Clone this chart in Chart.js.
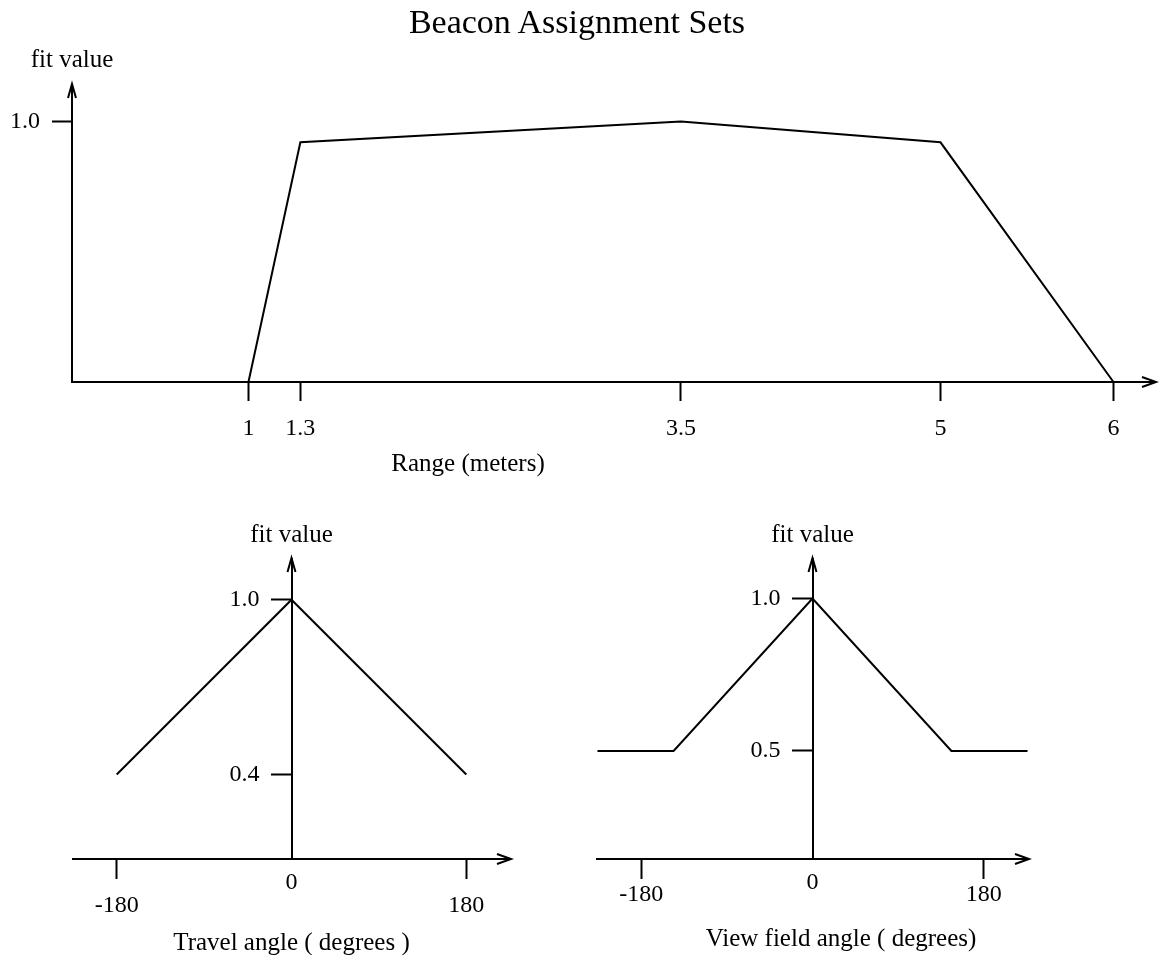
<!DOCTYPE html>
<html>
<head>
<meta charset="utf-8">
<title>Beacon Assignment Sets</title>
<script src="https://cdn.jsdelivr.net/npm/chart.js@4.4.1/dist/chart.umd.min.js"></script>
<style>
    body { margin: 0; background: #fff; }
    #figure { position: relative; width: 1164px; height: 955px; overflow: hidden; font-family: 'Liberation Serif', serif; color: #000; }
    #figure canvas { position: absolute; }
    .caption { position: absolute; text-align: center; white-space: nowrap; }
</style>
</head>
<body>
<div id="figure">
    <canvas id="rangeChart" width="1164" height="490" style="left:0; top:0;"></canvas>
    <div class="caption" style="left:0; top:0; width:1154px; line-height:44px; font-size:34px;">Beacon Assignment Sets</div>
    <div class="caption" style="left:22px; top:44px; width:100px; line-height:30px; font-size:25px;">fit value</div>
    <div class="caption" style="left:268px; top:448px; width:400px; line-height:30px; font-size:25px;">Range (meters)</div>
    <canvas id="travelChart" width="560" height="465" style="left:0; top:490px;"></canvas>
    <canvas id="viewChart" width="604" height="465" style="left:560px; top:490px;"></canvas>
    <div class="caption" style="left:641px; top:923px; width:400px; line-height:30px; font-size:25px;">View field angle ( degrees)</div>
</div>
<script>
// Range membership (top)
const rangeX = [1, 1.3, 3.5, 5, 6];
const rangeFit = [0, 0.92, 1.0, 0.92, 0];
const rangeTicks = [1, 1.3, 3.5, 5, 6];
const rangeFitTicks = [1.0];

// Travel angle membership (bottom left)
const travelX = [-180, 0, 180];
const travelFit = [0.4, 1.0, 0.4];
const travelFitTicks = [0.4, 1.0];

// View field angle membership (bottom right)
const viewX = [-226, -146, 0, 146, 226];
const viewFit = [0.5, 0.5, 1.0, 0.5, 0.5];
const viewFitTicks = [0.5, 1.0];

const angleTicks = [-180, 0, 180];

Chart.defaults.font.family = "'Liberation Serif', serif";
Chart.defaults.color = '#000';

// open arrow heads at the end of both axes
const axisArrows = {
    id: 'axisArrows',
    afterDraw(chart) {
        const { ctx, chartArea, scales } = chart;
        const yPos = chart.options.scales.y.position;
        const ax = yPos === 'left' ? chartArea.left : scales.x.getPixelForValue(0);
        const ay = chartArea.bottom;
        ctx.save();
        ctx.strokeStyle = '#000';
        ctx.lineWidth = 2;
        ctx.beginPath();
        ctx.moveTo(chartArea.right - 13, ay - 5);
        ctx.lineTo(chartArea.right + 1, ay);
        ctx.lineTo(chartArea.right - 13, ay + 5);
        ctx.moveTo(ax - 4, chartArea.top + 13);
        ctx.lineTo(ax, chartArea.top - 1);
        ctx.lineTo(ax + 4, chartArea.top + 13);
        ctx.stroke();
        ctx.restore();
    }
};

function points(xs, ys) {
    return xs.map((x, i) => ({ x: x, y: ys[i] }));
}

function lineDataset(xs, ys) {
    return {
        data: points(xs, ys),
        borderColor: '#000',
        borderWidth: 2,
        pointRadius: 0,
        tension: 0,
        clip: false
    };
}

const axisGrid = {
    drawOnChartArea: false,
    tickColor: '#000',
    tickWidth: 2
};

// top chart
new Chart(document.getElementById('rangeChart'), {
    type: 'line',
    data: { datasets: [lineDataset(rangeX, rangeFit)] },
    options: {
        responsive: false,
        animation: false,
        layout: { padding: { left: 0, right: 9, top: 85, bottom: 0 } },
        plugins: {
            legend: { display: false },
            tooltip: { enabled: false }
        },
        scales: {
            x: {
                type: 'linear',
                min: -0.02,
                max: 6.24,
                afterFit: s => { s.height = 108; },
                afterBuildTicks: s => { s.ticks = rangeTicks.map(v => ({ value: v })); },
                ticks: { padding: 13, font: { size: 24 }, callback: v => String(v) },
                grid: { ...axisGrid, tickLength: 19 },
                border: { color: '#000', width: 2 }
            },
            y: {
                type: 'linear',
                position: 'left',
                min: 0,
                max: 1.14,
                afterFit: s => { s.width = 72; },
                afterBuildTicks: s => { s.ticks = rangeFitTicks.map(v => ({ value: v })); },
                ticks: { padding: 12, font: { size: 24 }, callback: v => v.toFixed(1) },
                grid: { ...axisGrid, tickLength: 20 },
                border: { color: '#000', width: 2 }
            }
        }
    },
    plugins: [axisArrows]
});

// bottom charts share the same look; the y axis sits in the middle at 0
function angleChart(id, xs, ys, fitTicks, opts) {
    return new Chart(document.getElementById(id), {
        type: 'line',
        data: { datasets: [lineDataset(xs, ys)] },
        options: {
            responsive: false,
            animation: false,
            layout: { padding: { left: opts.padLeft, right: opts.padRight, top: 0, bottom: 0 } },
            plugins: {
                legend: { display: false },
                tooltip: { enabled: false },
                title: {
                    display: true,
                    text: 'fit value',
                    font: { size: 25, weight: 'normal' },
                    padding: { top: 30, bottom: 9 }
                }
            },
            scales: {
                x: {
                    type: 'linear',
                    min: -opts.xRange,
                    max: opts.xRange,
                    afterFit: s => { s.height = 96; },
                    afterBuildTicks: s => { s.ticks = angleTicks.map(v => ({ value: v })); },
                    ticks: {
                        padding: opts.labelPad,
                        font: { size: 24, lineHeight: opts.labelLine },
                        callback: v => v === 0 ? '0' : ['', String(v)]
                    },
                    grid: {
                        ...axisGrid,
                        tickLength: 20,
                        tickColor: c => (c.tick && c.tick.value === 0) ? 'rgba(0,0,0,0)' : '#000'
                    },
                    border: { color: '#000', width: 2 },
                    title: {
                        display: !!opts.title,
                        text: opts.title,
                        font: { size: 25, lineHeight: '24px' },
                        padding: { top: 0, bottom: 0 }
                    }
                },
                y: {
                    type: 'linear',
                    position: 'center',
                    min: opts.yMin,
                    max: opts.yMax,
                    afterBuildTicks: s => { s.ticks = fitTicks.map(v => ({ value: v })); },
                    ticks: { padding: 12, font: { size: 24 }, callback: v => v.toFixed(1) },
                    grid: { ...axisGrid, tickLength: 20 },
                    border: { color: '#000', width: 2 }
                }
            }
        },
        plugins: [axisArrows]
    });
}

angleChart('travelChart', travelX, travelFit, travelFitTicks, {
    padLeft: 73, padRight: 50,
    xRange: 225,
    yMin: 0.11, yMax: 1.14,
    labelPad: -7.5, labelLine: '23px',
    title: 'Travel angle ( degrees )'
});

// its axis caption sits off-centre, so it is placed as a caption above
angleChart('viewChart', viewX, viewFit, viewFitTicks, {
    padLeft: 37, padRight: 136,
    xRange: 226.5,
    yMin: 0.145, yMax: 1.13,
    labelPad: -2, labelLine: '12px',
    title: ''
});
</script>
</body>
</html>
